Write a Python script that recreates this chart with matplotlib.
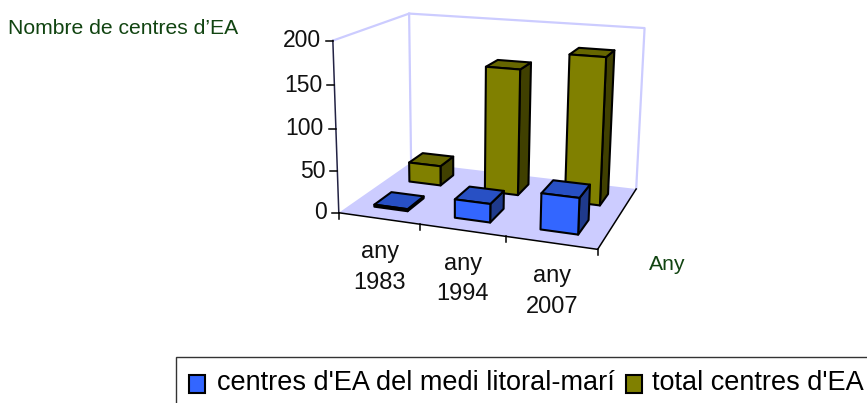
import numpy as np
import matplotlib
matplotlib.use("Agg")
import matplotlib.pyplot as plt
from matplotlib.patches import Polygon, Rectangle

plt.rcParams['font.family'] = ['Liberation Sans', 'DejaVu Sans']

# ---- data ----
categories = ["any\n1983", "any\n1994", "any\n2007"]
litoral = [2.5, 22, 42]
total = [25, 155, 177]
series_names = ["centres d'EA del medi litoral-marí", "total centres d'EA"]
value_ticks = [0, 50, 100, 150, 200]
y_title = "Nombre de centres d’EA"
x_title = "Any"

# ---- styles ----
FACES = {
    "blue": ("#3366FF", "#2850C4", "#1F3A8C"),
    "olive": ("#808000", "#666600", "#404000"),
}
WALL = "#CCCCFF"
TXT_GREEN = "#114411"

# ---- oblique projection: (category pos, depth 0..1, value) -> pixels ----
world = np.array([
    [0, 0, 0], [3, 0, 0], [3, 1, 0], [0, 1, 0],
    [0, 0, 200], [3, 0, 200], [3, 1, 200], [0, 1, 200],
    [1, 0, 0], [2, 0, 0],
], float)
pixels = np.array([
    [340, 213], [597, 249], [637, 189], [410, 162],
    [332, 40], [606, 61], [644, 28], [410, 14],
    [419.5, 224.5], [505.6, 236.5],
], float)
A = []
for (X, Y, Z), (u, v) in zip(world, pixels):
    A.append([X, Y, Z, 1, 0, 0, 0, 0, -u*X, -u*Y, -u*Z, -u])
    A.append([0, 0, 0, 0, X, Y, Z, 1, -v*X, -v*Y, -v*Z, -v])
P = np.linalg.svd(np.array(A))[2][-1].reshape(3, 4)


def proj(x, d, v):
    h = P @ np.array([x, d, v, 1.0])
    return h[0] / h[2], h[1] / h[2]


fig = plt.figure(figsize=(8.67, 4.03), dpi=100)
ax = fig.add_axes([0, 0, 1, 1])
ax.set_xlim(0, 867)
ax.set_ylim(403, 0)
ax.axis("off")

# walls and floor
ax.add_patch(Polygon([proj(0, 0, 0), proj(3, 0, 0), proj(3, 1, 0), proj(0, 1, 0)],
                     closed=True, fc=WALL, ec="none", zorder=1))
wall_path = [proj(0, 0, 200), proj(0, 1, 200), proj(3, 1, 200), proj(3, 1, 0)]
ax.plot(*zip(*wall_path), color=WALL, lw=1.6, zorder=1)
ax.plot(*zip(proj(0, 1, 200), proj(0, 1, 0)), color=WALL, lw=1.6, zorder=1)

# axes lines
ax.plot(*zip(proj(0, 0, 0), proj(0, 0, 200)), color="#222244", lw=1.1, zorder=2)
ax.plot(*zip(proj(0, 0, 0), proj(3, 0, 0), proj(3, 1, 0)), color="black", lw=1.1, zorder=2)
for v in value_ticks:
    x0, y0 = proj(0, 0, v)
    ax.plot([x0 - 7, x0], [y0, y0], color="black", lw=1.1, zorder=2)
    ax.text(x0 - 12, y0, str(v), ha="right", va="center", fontsize=16.5, color="#111111")
for i in range(len(categories) + 1):
    x0, y0 = proj(i, 0, 0)
    ax.plot([x0, x0], [y0, y0 + 6], color="black", lw=1.1, zorder=2)
for i, c in enumerate(categories):
    x0, y0 = proj(i + 0.5, 0, 0)
    ax.text(x0 + 1, y0 + 49, c, ha="center", va="center", fontsize=17,
            linespacing=1.5, color="#111111")


def bar(xc, d0, d1, value, colors, z):
    x0, x1 = xc - 0.21, xc + 0.21
    front = [proj(x0, d0, 0), proj(x1, d0, 0), proj(x1, d0, value), proj(x0, d0, value)]
    side = [proj(x1, d0, 0), proj(x1, d1, 0), proj(x1, d1, value), proj(x1, d0, value)]
    top = [proj(x0, d0, value), proj(x1, d0, value), proj(x1, d1, value), proj(x0, d1, value)]
    for poly, col in zip((side, top, front), (colors[2], colors[1], colors[0])):
        ax.add_patch(Polygon(poly, closed=True, fc=col, ec="black", lw=1.5,
                             joinstyle="round", zorder=z))


# back row first so that the front row hides it
for i, v in enumerate(total):
    bar(i + 0.51, 0.64, 0.85, v, FACES["olive"], 3 + i * 0.1)
for i, v in enumerate(litoral):
    bar(i + 0.5, 0.16, 0.39, v, FACES["blue"], 5 + i * 0.1)

# titles
ax.text(8, 29, y_title, ha="left", va="center", fontsize=15.2, color=TXT_GREEN)
ax.text(649, 264, x_title, ha="left", va="center", fontsize=15.2, color=TXT_GREEN)

# legend
ax.add_patch(Rectangle((175.5, 356.5), 720, 80, fc="white", ec="#333333", lw=1.0, zorder=6))
entries = [(189, 217, series_names[0], FACES["blue"][0]),
           (626, 652, series_names[1], FACES["olive"][0])]
for hx, tx, name, col in entries:
    ax.add_patch(Rectangle((hx, 375), 16, 18, fc=col, ec="black", lw=1.5, zorder=7))
    ax.text(tx, 383, name, ha="left", va="center", fontsize=19.5, color="black", zorder=7)

fig.savefig("out.png", dpi=100)
